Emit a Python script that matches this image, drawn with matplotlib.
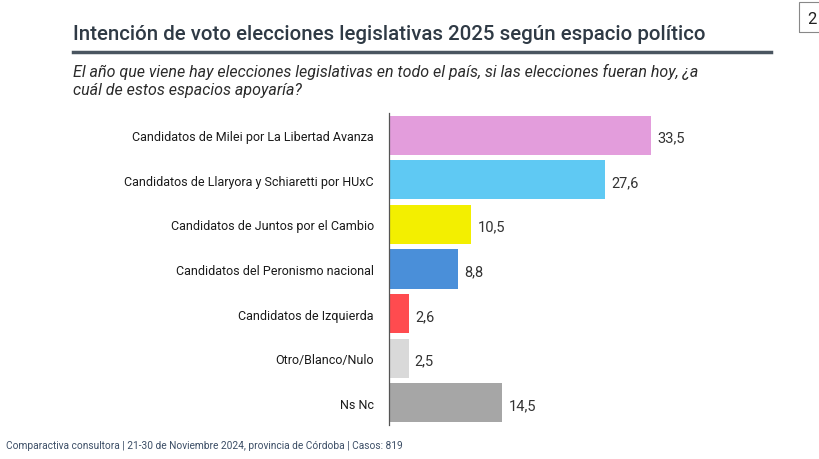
import matplotlib
matplotlib.use("Agg")
import matplotlib.pyplot as plt
from matplotlib.patches import Rectangle
from matplotlib.lines import Line2D

categories = [
    "Candidatos de Milei por La Libertad Avanza",
    "Candidatos de Llaryora y Schiaretti por HUxC",
    "Candidatos de Juntos por el Cambio",
    "Candidatos del Peronismo nacional",
    "Candidatos de Izquierda",
    "Otro/Blanco/Nulo",
    "Ns Nc",
]
values = [33.5, 27.6, 10.5, 8.8, 2.6, 2.5, 14.5]
value_labels = ["33,5", "27,6", "10,5", "8,8", "2,6", "2,5", "14,5"]
colors = ["#e39ddc", "#5fc9f3", "#f3ef00", "#4a8fd9", "#ff4b4f", "#d9d9d9", "#a6a6a6"]

title = "Intención de voto elecciones legislativas 2025 según espacio político"
subtitle = ("El año que viene hay elecciones legislativas en todo el país, si las elecciones fueran hoy, ¿a\n"
            "cuál de estos espacios apoyaría?")
footer = "Comparactiva consultora | 21-30 de Noviembre 2024, provincia de Córdoba | Casos: 819"

plt.rcParams['font.family'] = ['Roboto', 'DejaVu Sans']

W, H = 819, 460
fig = plt.figure(figsize=(W / 100, H / 100), dpi=100)

ax_left, ax_top, ax_bottom = 389, 114, 426
px_per_unit = (651 - 389) / 33.5
xmax = 40
ax = fig.add_axes([ax_left / W, 1 - ax_bottom / H, xmax * px_per_unit / W, (ax_bottom - ax_top) / H])

y = list(range(len(categories)))
ax.barh(y, values, height=0.88, color=colors)
ax.set_ylim(len(categories) - 0.5, -0.5)
ax.set_xlim(0, xmax)
for yi, v, lab in zip(y, values, value_labels):
    ax.text(v + 0.8, yi + 0.05, lab, va='center', ha='left', fontsize=10.5, color='#333333')
ax.set_yticks(y)
ax.set_yticklabels(categories, fontsize=9.0, color='#1a1a1a')
ax.tick_params(axis='y', length=0, pad=11)
ax.set_xticks([])
for s in ['top', 'right', 'bottom']:
    ax.spines[s].set_visible(False)
ax.spines['left'].set_color('#555555')
ax.spines['left'].set_linewidth(0.9)

fig.text(73 / W, 1 - 34 / H, title, fontsize=14.8, fontweight='medium', color='#2f3a45', va='center', ha='left')
fig.add_artist(Line2D([73 / W, 771 / W], [1 - 53 / H, 1 - 53 / H], color='#4a5560', linewidth=2.5))
fig.text(73 / W, 1 - 81 / H, subtitle, fontsize=11.5, style='italic', color='#2b2b2b',
         va='center', ha='left', linespacing=1.25)
fig.text(6 / W, 1 - 446 / H, footer, fontsize=7.3, color='#3c4e66', va='center', ha='left')

# page number box
fig.add_artist(Rectangle((799 / W, 1 - 33 / H), 30 / W, 30 / H, fill=False, edgecolor='#888888', linewidth=0.8))
fig.text(807 / W, 1 - 19 / H, "2", fontsize=12, color='#222222', va='center', ha='left')

fig.savefig("out.png", dpi=100)
